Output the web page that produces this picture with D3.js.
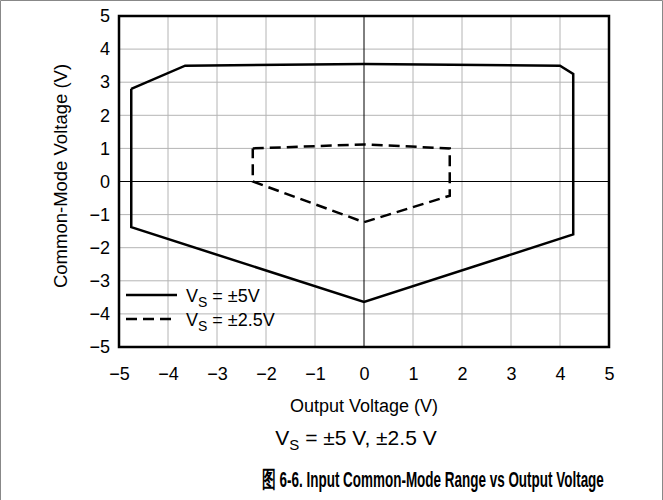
<!DOCTYPE html>
<html>
<head>
<meta charset="utf-8">
<script src="https://cdn.jsdelivr.net/npm/d3@7"></script>
<style>
  body { margin: 0; background: #fff; }
  svg text { font-family: Arial, "Liberation Sans", sans-serif; fill: #000; }
</style>
</head>
<body>
<div id="chart"></div>
<script>
// Data
var xTicks = [-5, -4, -3, -2, -1, 0, 1, 2, 3, 4, 5];
var yTicks = [-5, -4, -3, -2, -1, 0, 1, 2, 3, 4, 5];

// Vs = ±5V boundary (closed polygon)
var vs5X = [-4.75, -3.65, 0, 4.0, 4.27, 4.27, 0, -4.75, -4.75];
var vs5Y = [2.8, 3.5, 3.55, 3.5, 3.25, -1.6, -3.64, -1.38, 2.8];

// Vs = ±2.5V boundary (closed polygon)
var vs25X = [-2.27, 0, 1.75, 1.75, 0, -2.27, -2.27];
var vs25Y = [1.0, 1.12, 1.0, -0.43, -1.23, 0.0, 1.0];

var width = 663, height = 500;
var margin = { top: 16, right: 54, bottom: 153, left: 119 };

var svg = d3.select("#chart").append("svg")
    .attr("width", width)
    .attr("height", height);

// page frame
svg.append("path")
    .attr("d", "M0.5," + height + "V0.5H662.5V" + height)
    .attr("fill", "none")
    .attr("stroke", "#888")
    .attr("stroke-width", 1);

var x = d3.scaleLinear().domain([-5, 5]).range([margin.left, width - margin.right]);
var y = d3.scaleLinear().domain([-5, 5]).range([height - margin.bottom, margin.top]);

// grid
svg.append("g").selectAll("line")
    .data(xTicks.filter(d => d > -5 && d < 5 && d !== 0))
    .enter().append("line")
    .attr("x1", d => x(d)).attr("x2", d => x(d))
    .attr("y1", y(5)).attr("y2", y(-5))
    .attr("stroke", "#b4b4b4").attr("stroke-width", 1);

svg.append("g").selectAll("line")
    .data(yTicks.filter(d => d > -5 && d < 5 && d !== 0))
    .enter().append("line")
    .attr("y1", d => y(d)).attr("y2", d => y(d))
    .attr("x1", x(-5)).attr("x2", x(5))
    .attr("stroke", "#b4b4b4").attr("stroke-width", 1);

// zero axes
svg.append("line")
    .attr("x1", x(0)).attr("x2", x(0)).attr("y1", y(5)).attr("y2", y(-5))
    .attr("stroke", "#000").attr("stroke-width", 1);
svg.append("line")
    .attr("y1", y(0)).attr("y2", y(0)).attr("x1", x(-5)).attr("x2", x(5))
    .attr("stroke", "#000").attr("stroke-width", 1);

// plot frame
svg.append("rect")
    .attr("x", x(-5)).attr("y", y(5))
    .attr("width", x(5) - x(-5)).attr("height", y(-5) - y(5))
    .attr("fill", "none").attr("stroke", "#000").attr("stroke-width", 2.5);

// axes (labels only)
var xAxis = svg.append("g")
    .attr("transform", `translate(0, ${y(-5)})`)
    .call(d3.axisBottom(x).tickValues(xTicks).tickSize(0).tickPadding(20));
xAxis.select(".domain").remove();
xAxis.selectAll("text").style("font-size", "18px");

var yAxis = svg.append("g")
    .attr("transform", `translate(${x(-5)}, 0)`)
    .call(d3.axisLeft(y).tickValues(yTicks).tickSize(0).tickPadding(9));
yAxis.select(".domain").remove();
yAxis.selectAll("text").style("font-size", "18px");

// series
var line = d3.line().x(d => x(d[0])).y(d => y(d[1]));

svg.append("path")
    .datum(d3.zip(vs5X, vs5Y))
    .attr("d", line)
    .attr("fill", "none")
    .attr("stroke", "#000")
    .attr("stroke-width", 2.5)
    .attr("stroke-linejoin", "miter");

svg.append("path")
    .datum(d3.zip(vs25X, vs25Y))
    .attr("d", line)
    .attr("fill", "none")
    .attr("stroke", "#000")
    .attr("stroke-width", 2.5)
    .attr("stroke-dasharray", "11,6");

// legend
var legend = [
    { label: "±5V", dash: null, yy: 295 },
    { label: "±2.5V", dash: "11,6", yy: 319 }
];
legend.forEach(function(l) {
    svg.append("line")
        .attr("x1", 126).attr("x2", 177)
        .attr("y1", l.yy).attr("y2", l.yy)
        .attr("stroke", "#000").attr("stroke-width", 2.5)
        .attr("stroke-dasharray", l.dash);
    var t = svg.append("text")
        .attr("x", 186).attr("y", l.yy + 7)
        .style("font-size", "18px");
    t.append("tspan").text("V");
    t.append("tspan").attr("dy", 5).style("font-size", "14px").text("S");
    t.append("tspan").attr("dy", -5).text(" = " + l.label);
});

// axis titles
svg.append("text")
    .attr("x", 364).attr("y", 412)
    .attr("text-anchor", "middle")
    .style("font-size", "18px")
    .text("Output Voltage (V)");

svg.append("text")
    .attr("transform", "translate(67, 176) rotate(-90)")
    .attr("text-anchor", "middle")
    .style("font-size", "18.5px")
    .text("Common-Mode Voltage (V)");

// condition
var cond = svg.append("text")
    .attr("x", 356).attr("y", 445)
    .attr("text-anchor", "middle")
    .style("font-size", "21px");
cond.append("tspan").text("V");
cond.append("tspan").attr("dy", 5).style("font-size", "15px").text("S");
cond.append("tspan").attr("dy", -5).text(" = ±5 V, ±2.5 V");

// caption (condensed bold, squeezed horizontally to fit)
var cap = svg.append("text")
    .style("font-size", "22.5px")
    .style("font-weight", "bold")
    .text("图 6-6. Input Common-Mode Range vs Output Voltage");
var capW = cap.node().getComputedTextLength();
cap.attr("transform", `translate(262, 487) scale(${342 / capW}, 1)`);
</script>
</body>
</html>
